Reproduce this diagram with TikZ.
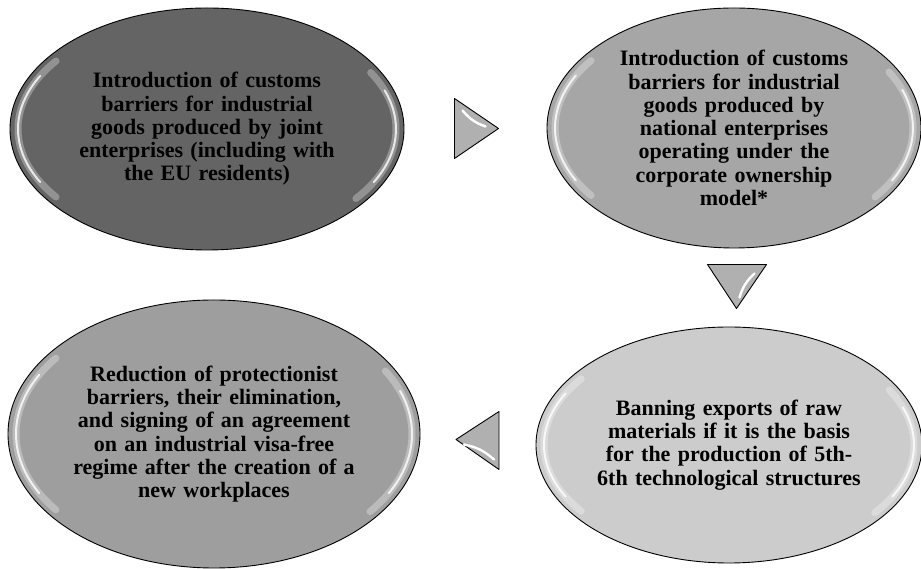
\documentclass[tikz,border=0pt]{standalone}
\usepackage{fontspec}
\setmainfont{Liberation Serif}
\usetikzlibrary{shapes.geometric,calc}

\definecolor{stagedark}{RGB}{100,100,100}
\definecolor{stagemid}{RGB}{166,166,166}
\definecolor{stagegray}{RGB}{158,158,158}
\definecolor{stagepale}{RGB}{204,204,204}
\definecolor{pointergray}{RGB}{176,176,176}

\begin{document}
\begin{tikzpicture}[x=1pt,y=1pt,
  stage/.style={ellipse,draw=black,line width=0.9pt,inner sep=0pt,align=center,
    font=\bfseries\fontsize{22}{23.3}\selectfont},
  rimsoft/.style={white,opacity=0.3,line width=7pt,line cap=round},
  rim/.style={white,opacity=0.8,line width=2pt,line cap=round},
  pointer/.style={draw=black,line width=0.9pt,fill=pointergray,line join=round},
  gloss/.style={white,line width=2.4pt,line cap=round}]
\useasboundingbox (0,0) rectangle (921,569);

% the four stages
\node[stage,fill=stagedark,minimum width=394pt,minimum height=242pt,text width=270pt] (s1) at (207,440)
  {Introduction of customs\\barriers for industrial\\goods produced by joint\\enterprises (including with\\the EU residents)};
\node[stage,fill=stagemid,minimum width=374pt,minimum height=240pt,text width=250pt] (s2) at (734,441)
  {Introduction of customs\\barriers for industrial\\goods produced by\\national enterprises\\operating under the\\corporate ownership\\model*};
\node[stage,fill=stagepale,minimum width=386pt,minimum height=236pt,text width=270pt] (s4) at (729,124)
  {Banning exports of raw\\materials if it is the basis\\for the production of 5th-\\6th technological structures};
\node[stage,fill=stagegray,minimum width=412pt,minimum height=268pt,text width=285pt] (s3) at (214,135)
  {Reduction of protectionist\\barriers, their elimination,\\and signing of an agreement\\on an industrial visa-free\\regime after the creation of a\\new workplaces};

% glossy rims
\foreach \s/\rx/\ry in {s1/189/113, s2/179/112, s3/198/126, s4/185/110} {
  \draw[rimsoft] (\s.center) ++(143:{\rx} and {\ry}) arc[start angle=143,end angle=217,x radius=\rx,y radius=\ry];
  \draw[rimsoft] (\s.center) ++(-38:{\rx} and {\ry}) arc[start angle=-38,end angle=30,x radius=\rx,y radius=\ry];
  \draw[rim] (\s.center) ++(152:{\rx} and {\ry}) arc[start angle=152,end angle=208,x radius=\rx,y radius=\ry];
  \draw[rim] (\s.center) ++(-28:{\rx} and {\ry}) arc[start angle=-28,end angle=20,x radius=\rx,y radius=\ry];
}

% pointers between the stages
\coordinate (p12) at ($(s1.east)!0.5!(s2.west)$);
\coordinate (p24) at ($(s2.south)!0.5!(s4.north)+(5,0)$);
\coordinate (p43) at ($(s4.west)!0.5!(s3.east)$);
\draw[pointer] (p12) ++(-21,30) -- ++(44,-30) -- ++(-44,-30) -- cycle;
\draw[pointer] (p24) ++(-29,23) -- ++(59,0) -- ++(-30,-44) -- cycle;
\draw[pointer] (p43) ++(21,28) -- ++(-43,-28) -- ++(43,-30) -- cycle;
\draw[gloss] (p12) ++(-13,18) to[bend right=15] ++(23,-16);
\draw[gloss] (p24) ++(18,14) to[bend right=15] ++(-15,-24);
\draw[gloss] (p43) ++(-14,-5) to[bend left=15] ++(30,-15);
\end{tikzpicture}
\end{document}
